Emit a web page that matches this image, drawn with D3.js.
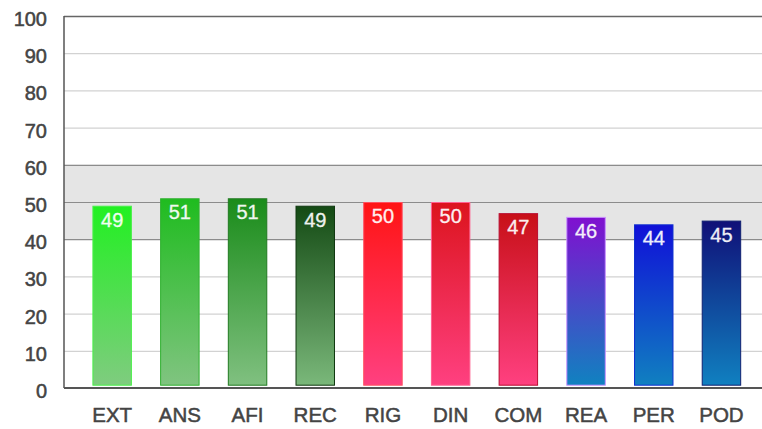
<!DOCTYPE html>
<html>
<head>
<meta charset="utf-8">
<script src="https://cdn.jsdelivr.net/npm/d3@7"></script>
<style>
  body { margin: 0; background: #fff; }
  svg { display: block; font-family: "Liberation Sans", Arial, sans-serif; }
</style>
</head>
<body>
<svg></svg>
<script>
// chart data
const categories = ['EXT', 'ANS', 'AFI', 'REC', 'RIG', 'DIN', 'COM', 'REA', 'PER', 'POD'];
const values = [49, 51, 51, 49, 50, 50, 47, 46, 44, 45];
const topColors = ['#22f022', '#1fbc1f', '#1a8c1a', '#144a14', '#ff1414', '#dc141e', '#c81018', '#8010d0', '#1010d8', '#101078'];
const bottomColors = ['#7fcc7f', '#80c480', '#80c080', '#7ab87a', '#ff4080', '#ff4080', '#ff4080', '#1082c0', '#1080c0', '#1080c0'];
const strokeColors = ['#48f048', '#30b030', '#207a20', '#103810', '#ff5060', '#ff6090', '#b80c30', '#c890ff', '#1030d0', '#102070'];
const yTicks = [0, 10, 20, 30, 40, 50, 60, 70, 80, 90, 100];
const band = [40, 60]; // shaded reference band

const size = {w: 762, h: 429};
const plot = {l: 64, r: 762, t: 16, b: 388};

const svg = d3.select('svg')
    .attr('width', size.w)
    .attr('height', size.h);

const y = d3.scaleLinear().domain([0, 100]).range([plot.b, plot.t]);
const x = d3.scaleBand()
    .domain(categories)
    .range([78.3, 755.3])
    .paddingInner(0.417)
    .paddingOuter(0.2085);

// shaded band
svg.append('rect')
    .attr('x', plot.l).attr('width', plot.r - plot.l)
    .attr('y', y(band[1])).attr('height', y(band[0]) - y(band[1]))
    .attr('fill', '#e5e5e5');

// gridlines
svg.append('g').selectAll('line')
    .data(yTicks.filter(d => d > 0 && d < 100))
    .join('line')
    .attr('x1', plot.l).attr('x2', plot.r)
    .attr('y1', d => y(d) + 0.5).attr('y2', d => y(d) + 0.5)
    .attr('stroke', d => (d >= band[0] && d <= band[1]) ? '#8c8c8c' : '#d2d2d2')
    .attr('stroke-width', 1.2);

// top border line
svg.append('line')
    .attr('x1', plot.l).attr('x2', plot.r)
    .attr('y1', y(100) + 0.5).attr('y2', y(100) + 0.5)
    .attr('stroke', '#666').attr('stroke-width', 1.6);

// gradients, one per bar
const defs = svg.append('defs');
categories.forEach((c, i) => {
    const g = defs.append('linearGradient')
        .attr('id', 'grad' + i)
        .attr('x1', 0).attr('y1', 0).attr('x2', 0).attr('y2', 1);
    g.append('stop').attr('offset', '0%').attr('stop-color', topColors[i]);
    g.append('stop').attr('offset', '100%').attr('stop-color', bottomColors[i]);
});

// bars
const barBottom = y(0) - 3.3;
svg.append('g').selectAll('rect')
    .data(values)
    .join('rect')
    .attr('x', (d, i) => x(categories[i]) + 0.5)
    .attr('width', x.bandwidth() - 1)
    .attr('y', d => y(d) + 0.5)
    .attr('height', d => barBottom - y(d))
    .attr('fill', (d, i) => `url(#grad${i})`)
    .attr('stroke', (d, i) => strokeColors[i])
    .attr('stroke-width', 1);

// value labels
svg.append('g').selectAll('text')
    .data(values)
    .join('text')
    .attr('x', (d, i) => x(categories[i]) + x.bandwidth() / 2)
    .attr('y', d => y(d) + 21)
    .attr('text-anchor', 'middle')
    .attr('fill', '#fff')
    .attr('stroke', '#fff')
    .attr('stroke-width', 0.3)
    .attr('font-size', 20)
    .attr('opacity', 0.93)
    .text(d => d);

// axes lines
svg.append('line')
    .attr('x1', plot.l).attr('x2', plot.l)
    .attr('y1', plot.t).attr('y2', plot.b)
    .attr('stroke', '#555').attr('stroke-width', 1.5);
svg.append('line')
    .attr('x1', plot.l).attr('x2', plot.r)
    .attr('y1', plot.b).attr('y2', plot.b)
    .attr('stroke', '#555').attr('stroke-width', 2);

// y tick labels
svg.append('g').selectAll('text')
    .data(yTicks)
    .join('text')
    .attr('x', 47)
    .attr('y', d => y(d) + 10)
    .attr('text-anchor', 'end')
    .attr('fill', '#444')
    .attr('stroke', '#444')
    .attr('stroke-width', 0.5)
    .attr('font-size', 20)
    .text(d => d);

// category labels
svg.append('g').selectAll('text')
    .data(categories)
    .join('text')
    .attr('x', d => x(d) + x.bandwidth() / 2)
    .attr('y', 422)
    .attr('text-anchor', 'middle')
    .attr('fill', '#444')
    .attr('stroke', '#444')
    .attr('stroke-width', 0.5)
    .attr('font-size', 20.5)
    .text(d => d);
</script>
</body>
</html>
